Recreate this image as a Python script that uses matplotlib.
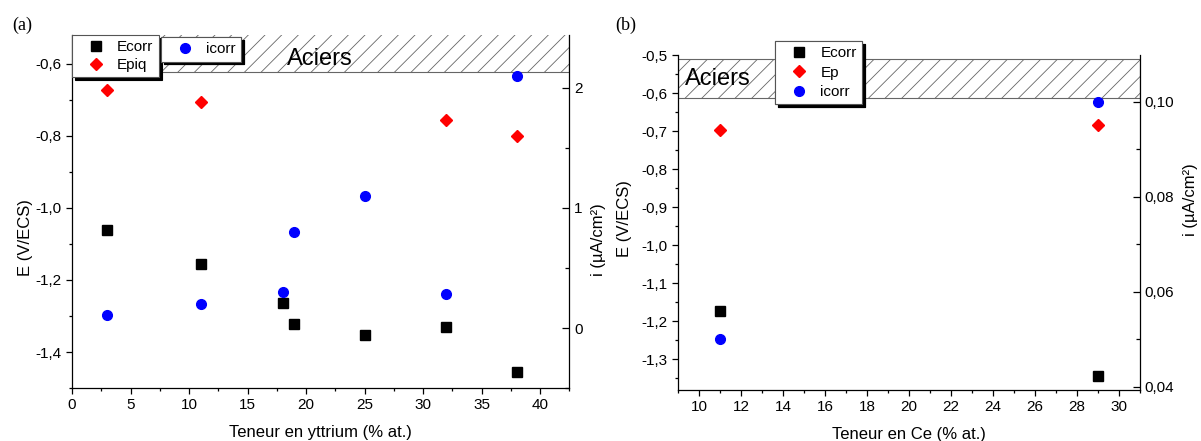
import matplotlib
matplotlib.use('Agg')
import matplotlib.pyplot as plt
from matplotlib.ticker import MultipleLocator, FuncFormatter
from matplotlib.patches import Rectangle

plt.rcParams['font.family'] = ['Liberation Sans', 'DejaVu Sans']
plt.rcParams['hatch.linewidth'] = 0.6

# (a) yttrium
y_x = [3, 11, 18, 19, 25, 32, 38]
y_ecorr = [-1.061, -1.156, -1.265, -1.322, -1.353, -1.331, -1.455]
y_epiq_x = [3, 11, 32, 38]
y_epiq = [-0.672, -0.706, -0.757, -0.802]
y_icorr = [0.11, 0.197, 0.30, 0.797, 1.097, 0.28, 2.097]

# (b) cerium
ce_x = [11, 29]
ce_ecorr = [-1.173, -1.344]
ce_ep = [-0.696, -0.685]
ce_icorr = [0.050, 0.100]

comma1 = FuncFormatter(lambda v, p: ('%.1f' % v).replace('.', ','))
comma2 = FuncFormatter(lambda v, p: ('%.2f' % v).replace('.', ','))

fig = plt.figure(figsize=(12.01, 4.41), dpi=100)


def style(ax, ax2):
    for a in (ax, ax2):
        a.spines['top'].set_visible(False)
        for s in a.spines.values():
            s.set_linewidth(0.9)
    ax.spines['right'].set_visible(False)
    ax2.spines['left'].set_visible(False)
    ax2.spines['bottom'].set_visible(False)
    ax.tick_params(which='both', direction='out', labelsize=11, width=0.9)
    ax.tick_params(which='major', length=4)
    ax.tick_params(which='minor', length=2.5)
    ax2.tick_params(which='both', direction='in', labelsize=11, width=0.9)
    ax2.tick_params(which='major', length=5)
    ax2.tick_params(which='minor', length=3)


def shadow_legend(ax, handles, labels, anchor, spacing=0.25):
    leg = ax.legend(handles, labels, loc='upper left', bbox_to_anchor=anchor,
                    borderaxespad=0, fancybox=False, framealpha=1, fontsize=11,
                    edgecolor='#555555', handletextpad=0.2, handlelength=2.4,
                    borderpad=0.35, labelspacing=spacing,
                    shadow={'facecolor': 'black', 'edgecolor': 'black', 'alpha': 1})
    leg.get_frame().set_linewidth(0.8)
    ax.add_artist(leg)
    return leg


# ---------- panel (a) ----------
ax = fig.add_axes([0.060, 0.120, 0.414, 0.801])
ax2 = ax.twinx()
style(ax, ax2)
ax.set_xlim(0, 42.5)
ax.set_ylim(-1.5, -0.52)
ax2.set_ylim(-0.5, 2.44)
ax.add_patch(Rectangle((0, -0.623), 42.5, 0.2, facecolor='white', edgecolor='#666666',
                       hatch='//', linewidth=0.8, zorder=0))
ax.text(21.2, -0.586, 'Aciers', fontsize=17, ha='center', va='center', zorder=1)
h1, = ax.plot(y_x, y_ecorr, 's', color='black', ms=6.5, label='Ecorr')
h2, = ax.plot(y_epiq_x, y_epiq, 'D', color='red', ms=6.5, label='Epiq')
h3, = ax2.plot(y_x, y_icorr, 'o', color='blue', ms=7, label='icorr')
ax.xaxis.set_major_locator(MultipleLocator(5))
ax.xaxis.set_minor_locator(MultipleLocator(2.5))
ax.yaxis.set_major_locator(MultipleLocator(0.2))
ax.yaxis.set_minor_locator(MultipleLocator(0.1))
ax.yaxis.set_major_formatter(comma1)
ax2.yaxis.set_major_locator(MultipleLocator(1))
ax2.yaxis.set_minor_locator(MultipleLocator(0.5))
ax.set_xlabel('Teneur en yttrium (% at.)', fontsize=12, labelpad=9)
ax.set_ylabel('E (V/ECS)', fontsize=12)
ax.yaxis.set_label_coords(-0.078, 0.425)
ax2.set_ylabel('i (µA/cm²)', fontsize=12)
ax2.yaxis.set_label_coords(1.044, 0.42)
shadow_legend(ax2, [h1, h2], ['Ecorr', 'Epiq'], (0.0, 1.0))
shadow_legend(ax2, [h3], ['icorr'], (0.179, 0.994))
fig.text(0.010, 0.943, '(a)', family=['Liberation Serif'], fontsize=13, va='center')

# ---------- panel (b) ----------
bx = fig.add_axes([0.5645, 0.116, 0.3845, 0.759])
bx2 = bx.twinx()
style(bx, bx2)
bx.set_xlim(9, 31)
bx.set_ylim(-1.38, -0.5)
bx2.set_ylim(0.0393, 0.1098)
bx.add_patch(Rectangle((9, -0.614), 22, 0.103, facecolor='white', edgecolor='#666666',
                       hatch='//', linewidth=0.8, zorder=0))
bx.text(9.33, -0.563, 'Aciers', fontsize=17, ha='left', va='center', zorder=1)
g1, = bx.plot(ce_x, ce_ecorr, 's', color='black', ms=6.5, label='Ecorr')
g2, = bx.plot(ce_x, ce_ep, 'D', color='red', ms=6.5, label='Ep')
g3, = bx2.plot(ce_x, ce_icorr, 'o', color='blue', ms=7, label='icorr')
bx.xaxis.set_major_locator(MultipleLocator(2))
bx.xaxis.set_minor_locator(MultipleLocator(1))
bx.yaxis.set_major_locator(MultipleLocator(0.1))
bx.yaxis.set_minor_locator(MultipleLocator(0.05))
bx.yaxis.set_major_formatter(comma1)
bx2.yaxis.set_major_locator(MultipleLocator(0.02))
bx2.yaxis.set_minor_locator(MultipleLocator(0.01))
bx2.yaxis.set_major_formatter(comma2)
bx.set_xlabel('Teneur en Ce (% at.)', fontsize=12, labelpad=9)
bx.set_ylabel('E (V/ECS)', fontsize=12)
bx.yaxis.set_label_coords(-0.0996, 0.513)
bx2.set_ylabel('i (µA/cm²)', fontsize=12)
bx2.yaxis.set_label_coords(1.093, 0.567)
shadow_legend(bx2, [g1, g2, g3], ['Ecorr', 'Ep', 'icorr'], (0.211, 1.042), spacing=0.35)
fig.text(0.512, 0.943, '(b)', family=['Liberation Serif'], fontsize=13, va='center')

fig.savefig('out.png', dpi=100)
